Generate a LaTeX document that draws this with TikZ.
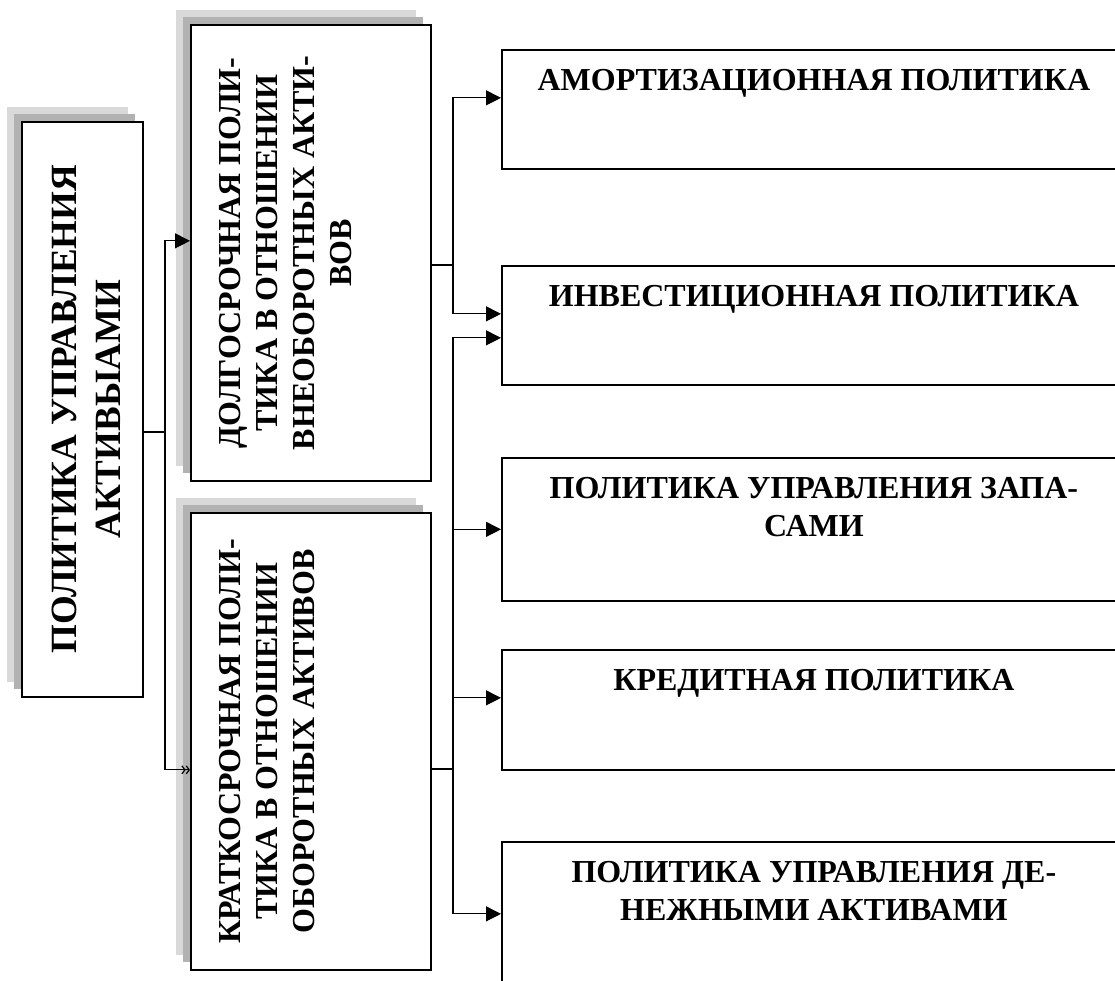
\documentclass[tikz,border=0pt]{standalone}
\usepackage{fontspec}
\setmainfont{Liberation Serif}
\usetikzlibrary{arrows.meta,shadows}

\tikzset{
  box/.style={draw, line width=1.7pt, fill=white, inner sep=0pt, anchor=north west},
  shadowbox/.style={box,
    drop shadow={shadow xshift=-15pt, shadow yshift=15pt, opacity=1, fill=gray!30},
    drop shadow={shadow xshift=-8pt, shadow yshift=8pt, opacity=1, fill=gray!60}},
  vtext/.style={rotate=90, anchor=north, align=center, inner sep=0pt,
    font=\bfseries\fontsize{32}{37}\selectfont},
  htext/.style={anchor=north, align=center, inner sep=0pt,
    font=\bfseries\fontsize{32}{38}\selectfont},
  conn/.style={line width=1.2pt},
  arr/.style={conn, -{Triangle[length=15pt, width=15pt]}},
}

\begin{document}
\begin{tikzpicture}[x=1pt,y=-1pt]
    \useasboundingbox (0,0) rectangle (1115,981);
    \fill[white] (0,0) rectangle (1115,981);
    \clip (0,0) rectangle (1115,981);

    % left column
    \node[shadowbox, minimum width=121pt, minimum height=575pt] (main) at (21,121) {};
    \node[shadowbox, minimum width=240pt, minimum height=456pt] (dolg) at (190,24) {};
    \node[shadowbox, minimum width=240pt, minimum height=457pt] (kratk) at (190,512) {};
    \node[vtext, font=\bfseries\fontsize{37}{44}\selectfont] (mainT) at ([xshift=31pt]main.west)
    {ПОЛИТИКА УПРАВЛЕНИЯ\\АКТИВЫАМИ};
    \node[vtext] (dolgT) at ([xshift=29pt]dolg.west)
    {ДОЛГОСРОЧНАЯ ПОЛИ-\\ТИКА В ОТНОШЕНИИ\\ВНЕОБОРОТНЫХ АКТИ-\\ВОВ};
    \node[vtext] (kratkT) at ([xshift=29pt]kratk.west)
    {КРАТКОСРОЧНАЯ ПОЛИ-\\ТИКА В ОТНОШЕНИИ\\ОБОРОТНЫХ АКТИВОВ};

    % right column
    \node[box, minimum width=624pt, minimum height=119pt] (amort) at (501,49) {};
    \node[box, minimum width=624pt, minimum height=119pt] (invest) at (501,265) {};
    \node[box, minimum width=624pt, minimum height=143pt] (zapas) at (501,457) {};
    \node[box, minimum width=624pt, minimum height=120pt] (kredit) at (501,649) {};
    \node[box, minimum width=624pt, minimum height=160pt] (denezh) at (501,841) {};
    \node[htext] (amortT) at ([yshift=-20pt]amort.north) {АМОРТИЗАЦИОННАЯ ПОЛИТИКА};
    \node[htext] (investT) at ([yshift=-20pt]invest.north) {ИНВЕСТИЦИОННАЯ ПОЛИТИКА};
    \node[htext] (zapasT) at ([yshift=-20pt]zapas.north) {ПОЛИТИКА УПРАВЛЕНИЯ ЗАПА-\\САМИ};
    \node[htext] (kreditT) at ([yshift=-20pt]kredit.north) {КРЕДИТНАЯ ПОЛИТИКА};
    \node[htext] (denezhT) at ([yshift=-20pt]denezh.north) {ПОЛИТИКА УПРАВЛЕНИЯ ДЕ-\\НЕЖНЫМИ АКТИВАМИ};

    % connectors
    \coordinate (j1) at (165,432);
    \coordinate (j2) at (453,265);
    \coordinate (j3) at (453,769);
    \draw[conn] (main.east |- j1) -- (j1);
    \draw[arr] (j1) |- ([yshift=12pt]dolg.west);
    \draw[conn, -{Straight Barb[length=3pt,width=8pt] Straight Barb[length=3pt,width=8pt]}]
      (j1) |- ([yshift=-28.5pt]kratk.west);
    \draw[conn] (dolg.east |- j2) -- (j2);
    \draw[arr] (j2) |- ([yshift=11.5pt]amort.west);
    \draw[arr] (j2) |- ([yshift=11.5pt]invest.west);
    \draw[conn] (kratk.east |- j3) -- (j3);
    \draw[arr] (j3) |- ([yshift=-12.5pt]invest.west);
    \draw[arr] (j3) |- (zapas.west);
    \draw[arr] (j3) |- ([yshift=12pt]kredit.west);
    \draw[arr] (j3) |- ([yshift=8pt]denezh.west);
\end{tikzpicture}
\end{document}
